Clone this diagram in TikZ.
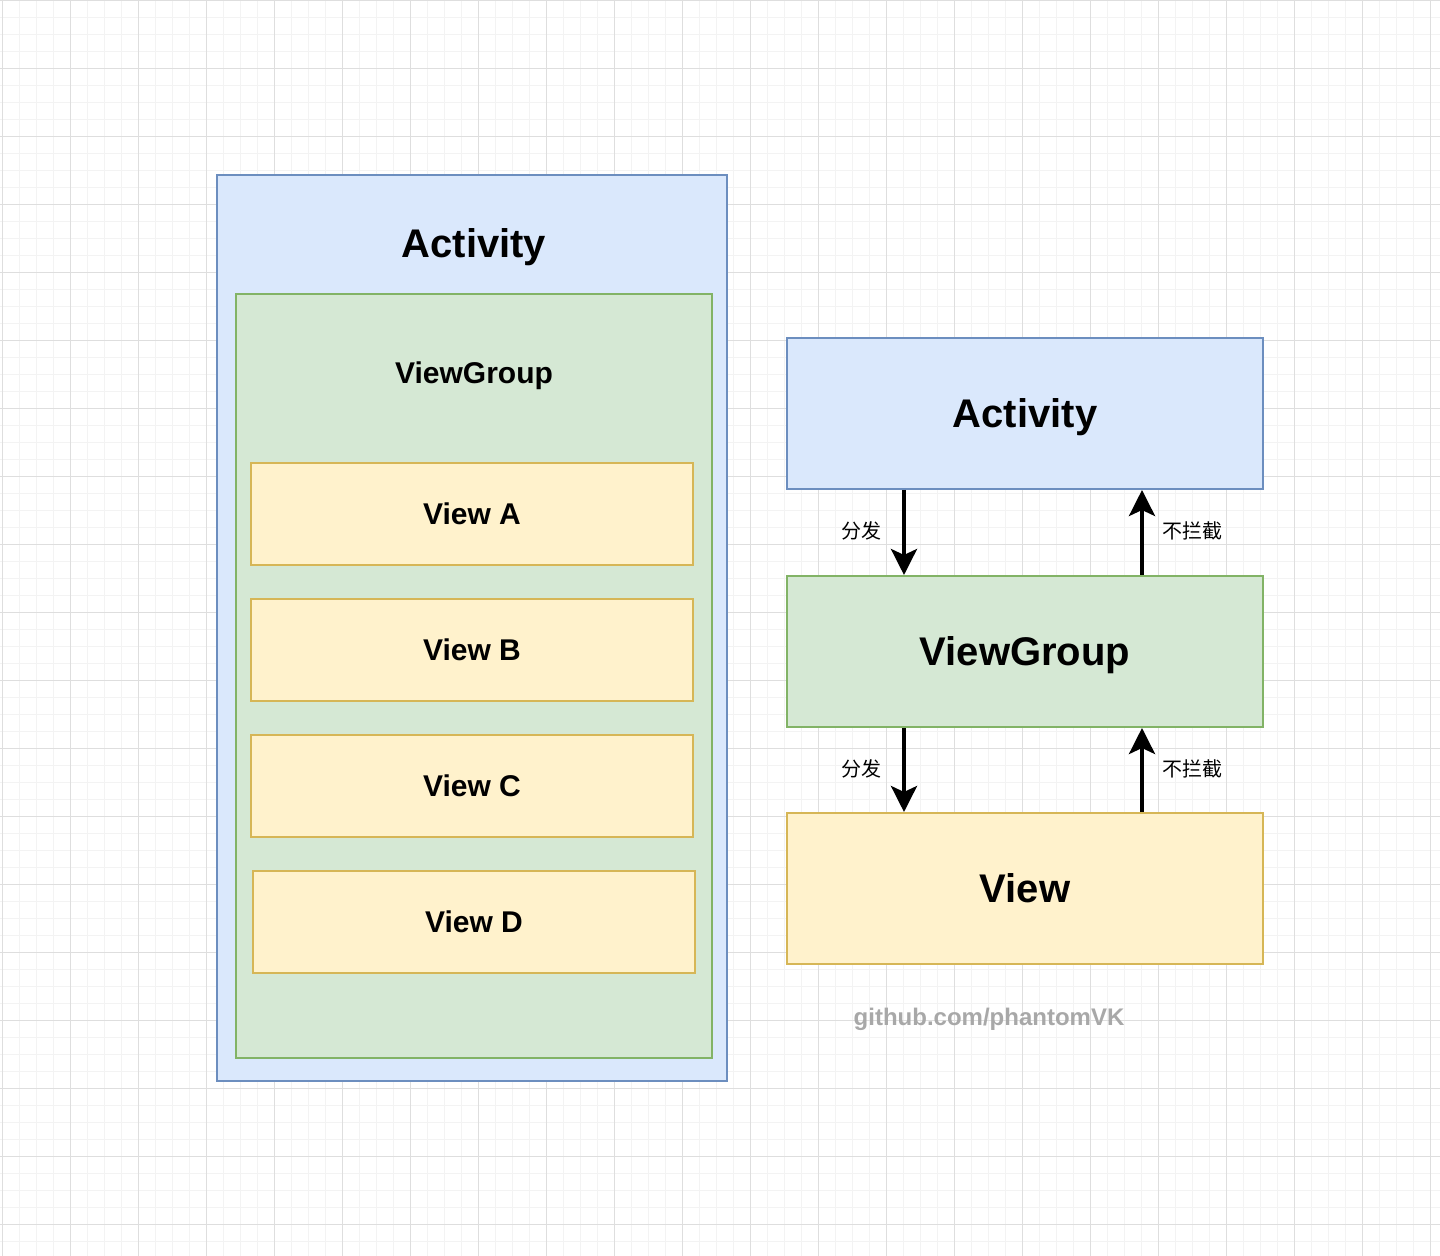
\documentclass[tikz,border=0pt]{standalone}
\usepackage{fontspec}
\setmainfont{Liberation Sans}
\newfontfamily\cjk{Noto Sans CJK SC}
\usetikzlibrary{arrows.meta}
\definecolor{bluefill}{HTML}{DAE8FC}
\definecolor{bluedraw}{HTML}{6C8EBF}
\definecolor{greenfill}{HTML}{D5E8D4}
\definecolor{greendraw}{HTML}{82B366}
\definecolor{yellowfill}{HTML}{FFF2CC}
\definecolor{yellowdraw}{HTML}{D6B656}
\definecolor{gridminor}{HTML}{F3F3F3}
\definecolor{gridmajor}{HTML}{DEDEDE}
\definecolor{wmark}{HTML}{A8A8A8}
\tikzset{
  bluebox/.style={draw=bluedraw, fill=bluefill, line width=1pt, inner sep=0pt},
  greenbox/.style={draw=greendraw, fill=greenfill, line width=1pt, inner sep=0pt},
  yellowbox/.style={draw=yellowdraw, fill=yellowfill, line width=1pt, inner sep=0pt},
  bigtxt/.style={font=\fontsize{20pt}{24pt}\selectfont\bfseries, text depth=0pt},
  midtxt/.style={font=\fontsize{15pt}{18pt}\selectfont\bfseries, text depth=0pt},
  cjklab/.style={font=\cjk\fontsize{10pt}{12pt}\selectfont},
  flowarrow/.style={line width=2pt, -{Stealth[length=13pt, width=13pt, inset=3pt]}},
}
\begin{document}
\begin{tikzpicture}[x=0.5pt, y=-0.5pt]
\useasboundingbox (0,0) rectangle (1440,1256);
\fill[white] (0,0) rectangle (1440,1256);
% grid
\foreach \i in {0,...,84} {
  \draw[gridminor, line width=0.5pt] (2.3+17*\i,0) -- (2.3+17*\i,1256);
}
\foreach \i in {0,...,73} {
  \draw[gridminor, line width=0.5pt] (0,0.3+17*\i) -- (1440,0.3+17*\i);
}
\foreach \i in {0,...,21} {
  \draw[gridmajor, line width=0.5pt] (2.3+68*\i,0) -- (2.3+68*\i,1256);
}
\foreach \i in {0,...,18} {
  \draw[gridmajor, line width=0.5pt] (0,0.3+68*\i) -- (1440,0.3+68*\i);
}
% left panel
\node[bluebox, minimum width=255pt, minimum height=453pt] (lact) at (472,628) {};
\node[bigtxt] (lacttxt) at (474,243) {Activity};
\node[greenbox, minimum width=238pt, minimum height=382pt] (lvg) at (474,676) {};
\node[midtxt] (lvgtxt) at (474,373) {ViewGroup};
\node[yellowbox, minimum width=221pt, minimum height=51pt, midtxt] (va) at (472,514) {View A};
\node[yellowbox, minimum width=221pt, minimum height=51pt, midtxt] (vb) at (472,650) {View B};
\node[yellowbox, minimum width=221pt, minimum height=51pt, midtxt] (vc) at (472,786) {View C};
\node[yellowbox, minimum width=221pt, minimum height=51pt, midtxt] (vd) at (474,922) {View D};
% right panel
\node[bluebox, minimum width=238pt, minimum height=75.5pt, bigtxt] (ract) at (1025,413.5) {Activity};
\node[greenbox, minimum width=238pt, minimum height=75.5pt, bigtxt] (rvg) at (1025,651.5) {ViewGroup};
\node[yellowbox, minimum width=238pt, minimum height=75.5pt, bigtxt] (rv) at (1025,888.5) {View};
% arrows
\draw[flowarrow] ([xshift=59pt]ract.south west) -- ([xshift=59pt]rvg.north west);
\draw[flowarrow] ([xshift=178pt]rvg.north west) -- ([xshift=178pt]ract.south west);
\draw[flowarrow] ([xshift=59pt]rvg.south west) -- ([xshift=59pt]rv.north west);
\draw[flowarrow] ([xshift=178pt]rv.north west) -- ([xshift=178pt]rvg.south west);
\node[cjklab] (l1) at (861,531) {分发};
\node[cjklab] (l2) at (1192,531) {不拦截};
\node[cjklab] (l3) at (861,769) {分发};
\node[cjklab] (l4) at (1192,769) {不拦截};
% watermark
\node[font=\fontsize{12pt}{14pt}\selectfont\bfseries, text=wmark] (wm) at (989,1019) {github.com/phantomVK};
\end{tikzpicture}
\end{document}
